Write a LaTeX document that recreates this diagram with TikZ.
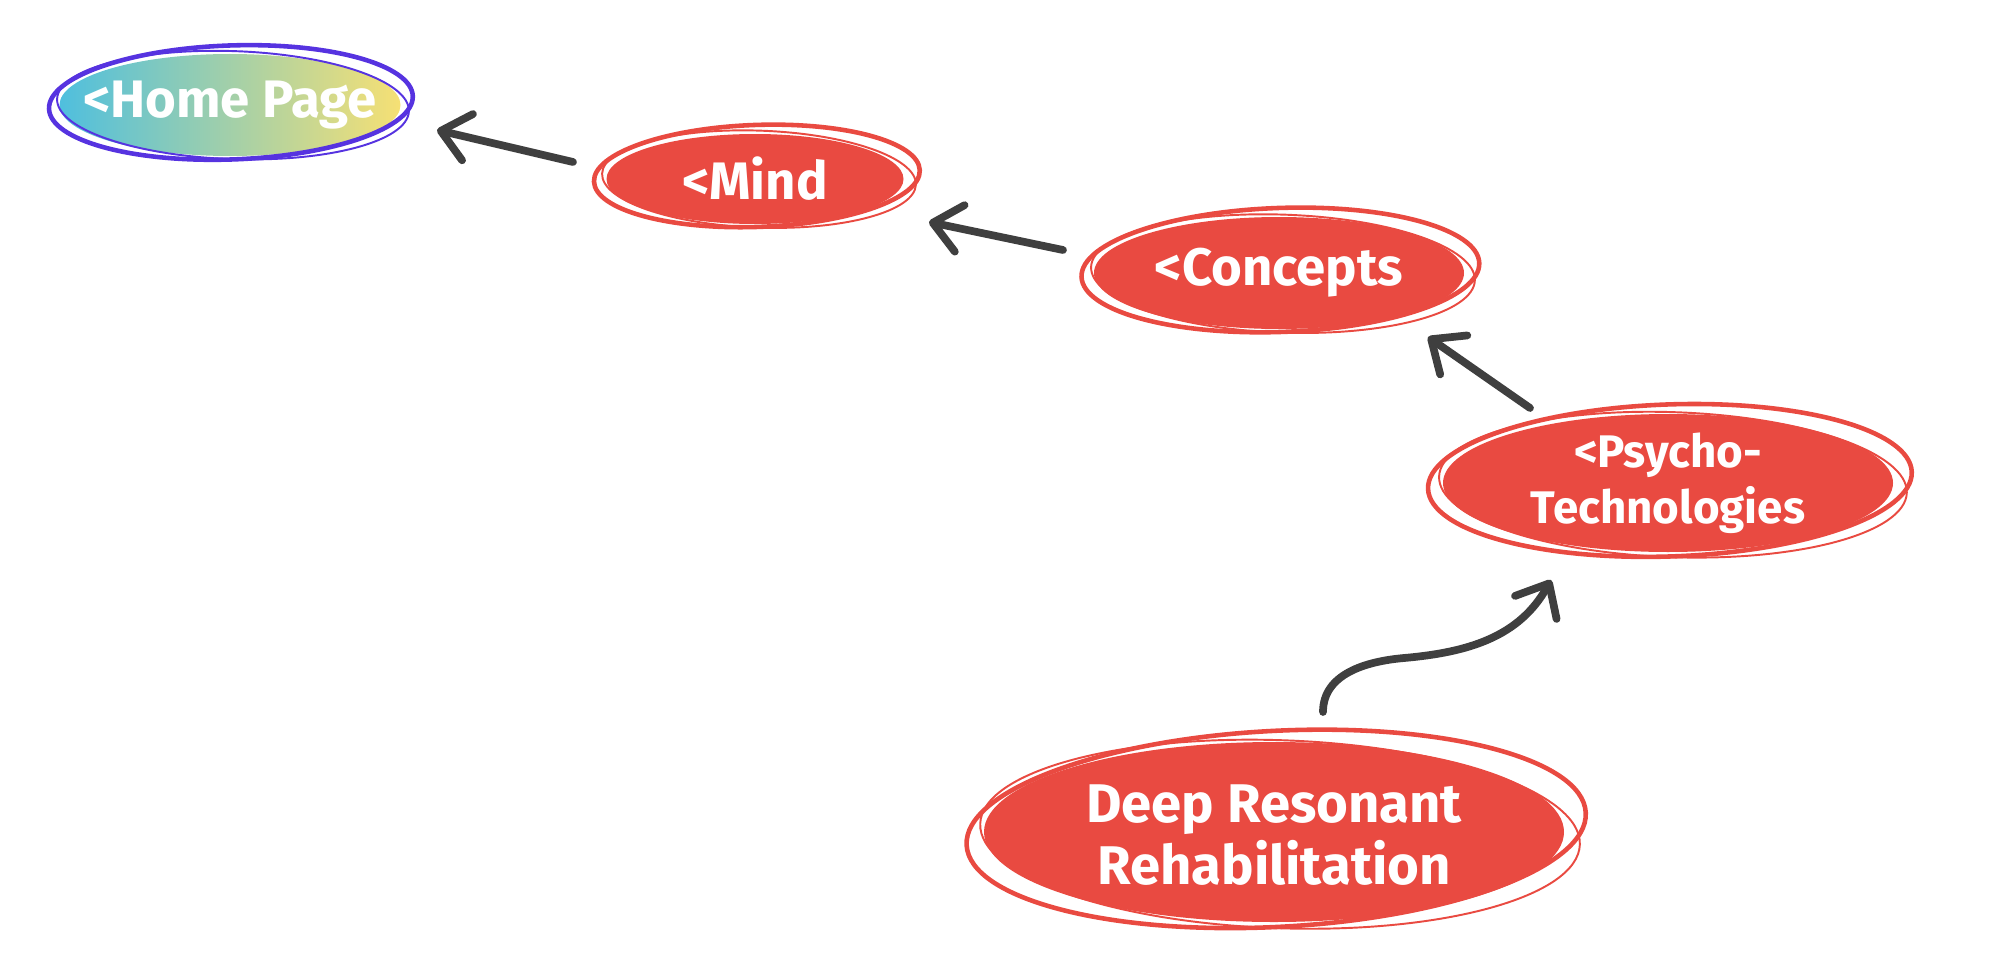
\documentclass[tikz,border=0pt]{standalone}
\usepackage{fontspec}
\setmainfont{Fira Sans}
\usepackage{tikz}
\usetikzlibrary{positioning}
\usetikzlibrary{arrows.meta,backgrounds}

\definecolor{nodered}{HTML}{E94A41}
\definecolor{homeline}{HTML}{5633E0}
\definecolor{homeleft}{HTML}{4FBFDE}
\definecolor{homeright}{HTML}{F6E074}
\definecolor{linkgrey}{HTML}{3F3F3F}

\begin{document}
\begin{tikzpicture}[
	bubble/.style={inner sep=0, text=white, align=center, font=\bfseries\fontsize{30}{34}\selectfont},
	scribble/.style={draw=nodered, line width=2.6pt},
	thinscribble/.style={draw=nodered, line width=1.1pt},
	link/.style={draw=linkgrey, line width=4.4pt, line cap=round,
		-{Straight Barb[length=5.5mm,width=9.5mm,line cap=round,line join=round]}}
]
	\useasboundingbox (0,0) rectangle (39.8,-19.4);

	\path
		(4.6,-2.1) node[bubble](Home){<Home Page}
		(15.1,-3.58) node[bubble](Mind){<Mind}
		(25.58,-5.46) node[bubble](Concepts){<Concepts}
		(33.36,-9.66) node[bubble, font=\bfseries\fontsize{26}{32}\selectfont](Psycho){<Psycho-\\Technologies}
		(25.48,-16.7) node[bubble, font=\bfseries\fontsize{31}{35}\selectfont](Deep){Deep Resonant\\Rehabilitation}
	;

	\begin{scope}[on background layer]
		\shade[left color=homeleft, right color=homeright] (Home) ellipse (3.41 and 1.02);
		\fill[nodered] (Mind) ellipse (2.97 and 0.9);
		\fill[nodered] (Concepts) ellipse (3.7 and 1.12);
		\fill[nodered] (Psycho) ellipse (4.5 and 1.38);
		\fill[nodered] ([yshift=0.06cm]Deep.center) ellipse (5.8 and 1.8);
	\end{scope}

	% hand drawn rings
	\draw[scribble, draw=homeline, rotate=2] ([shift={(0.02,0.05)}]Home.center) ellipse (3.64 and 1.14);
	\draw[thinscribble, draw=homeline, rotate=-2] ([shift={(0.06,0)}]Home.center) ellipse (3.52 and 1.08);
	\draw[scribble, rotate=2] ([shift={(0.04,0.06)}]Mind.center) ellipse (3.26 and 1.02);
	\draw[thinscribble, rotate=-2] ([shift={(0.08,0)}]Mind.center) ellipse (3.14 and 0.97);
	\draw[scribble, rotate=2] ([shift={(0.03,0.06)}]Concepts.center) ellipse (3.98 and 1.24);
	\draw[thinscribble, rotate=-2] ([shift={(0.08,-0.01)}]Concepts.center) ellipse (3.84 and 1.18);
	\draw[scribble, rotate=2] ([shift={(0.04,0.05)}]Psycho.center) ellipse (4.84 and 1.52);
	\draw[thinscribble, rotate=-2] ([shift={(0.1,-0.03)}]Psycho.center) ellipse (4.68 and 1.45);
	\draw[scribble, rotate=3] ([shift={(0.05,0.12)}]Deep.center) ellipse (6.2 and 1.96);
	\draw[thinscribble, rotate=-2] ([shift={(0.12,0.02)}]Deep.center) ellipse (6.0 and 1.88);

	\draw[link] ([shift={(-3.64,0.34)}]Mind.center) -- ([shift={(4.14,-0.5)}]Home.center);
	\draw[link] ([shift={(-4.32,0.46)}]Concepts.center) -- ([shift={(3.48,-0.86)}]Mind.center);
	\draw[link] ([shift={(-2.76,1.5)}]Psycho.center) -- ([shift={(2.98,-1.28)}]Concepts.center);
	\draw[link] ([shift={(0.98,2.46)}]Deep.center) to[out=90,in=185] ([shift={(2.6,3.54)}]Deep.center)
		to[out=5,in=-119] ([shift={(-2.34,-1.94)}]Psycho.center);
\end{tikzpicture}
\end{document}
